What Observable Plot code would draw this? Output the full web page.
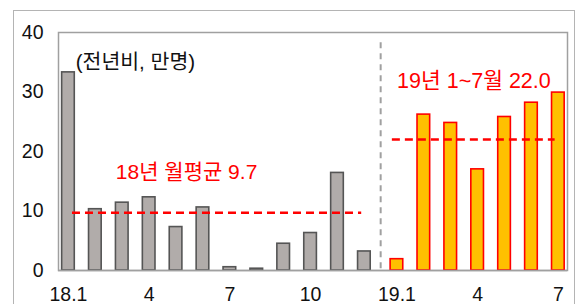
<!DOCTYPE html>
<html><head><meta charset="utf-8">
<script src="https://cdn.jsdelivr.net/npm/d3@7"></script>
<script src="https://cdn.jsdelivr.net/npm/@observablehq/plot@0.6"></script>
<style>
body{margin:0;background:#fff;}
#wrap{position:relative;width:578px;height:304px;overflow:hidden;}
#outer{position:absolute;left:13px;top:10px;width:560px;height:310px;border:1.5px solid #b4b4b4;}
#chart{position:absolute;left:0;top:0;}
</style></head><body>
<div id="wrap"><div id="outer"></div><div id="chart"></div></div>
<script>
const months2018 = ["18.1","18.2","18.3","18.4","18.5","18.6","18.7","18.8","18.9","18.10","18.11","18.12"];
const values2018 = [33.3,10.3,11.4,12.3,7.3,10.6,0.55,0.3,4.5,6.3,16.4,3.2];
const months2019 = ["19.1","19.2","19.3","19.4","19.5","19.6","19.7"];
const values2019 = [1.9,26.2,24.8,17.0,25.8,28.2,29.9];
const avg2018 = 9.7;
const avg2019 = 22.0;
const tickLabels = {"18.1":"18.1","18.4":"4","18.7":"7","18.10":"10","19.1":"19.1","19.4":"4","19.7":"7"};
const yTicks = [0,10,20,30,40];

const gap = 1.21; // spacing between last 2018 slot and first 2019 slot
const rows = [
  ...months2018.map((m,i)=>({m, v: values2018[i], pos: i, yr: 2018})),
  ...months2019.map((m,j)=>({m, v: values2019[j], pos: months2018.length - 1 + gap + j, yr: 2019}))
];
const posOf = m => rows.find(r=>r.m===m).pos;
const last18 = rows.filter(r=>r.yr===2018).at(-1).pos;
const first19 = rows.filter(r=>r.yr===2019)[0].pos;
const last19 = rows.at(-1).pos;
const hw = 0.235;
const font = "'Liberation Sans','Noto Sans CJK KR',sans-serif";

const chart = Plot.plot({
  width: 578, height: 304,
  marginTop: 32, marginBottom: 34, marginLeft: 58, marginRight: 11,
  style: {fontFamily: font, fontSize: "19px", color: "#111", background: "transparent"},
  x: {domain: [-0.37, last19 + 0.34], axis: null},
  y: {domain: [0, 40], axis: null},
  marks: [
    Plot.frame({stroke: "#a0a0a0", strokeWidth: 1.5}),
    Plot.rectY(rows.filter(r=>r.yr===2018), {x1: d=>d.pos-hw, x2: d=>d.pos+hw, y: "v", fill: "#b1acaa", stroke: "#555", strokeWidth: 1.6}),
    Plot.rectY(rows.filter(r=>r.yr===2019), {x1: d=>d.pos-hw, x2: d=>d.pos+hw, y: "v", fill: "#ffc000", stroke: "#ff0000", strokeWidth: 1.6}),
    Plot.ruleY([0], {stroke: "#a0a0a0", strokeWidth: 1.5}),
    Plot.ruleX([(last18 + first19)/2], {y1: 0.3, y2: 38.6, stroke: "#a0a0a0", strokeWidth: 2, strokeDasharray: "6,5"}),
    Plot.ruleY([avg2018], {x1: 0.15, x2: last18 - 0.1, stroke: "#ff0000", strokeWidth: 2.5, strokeDasharray: "8,5"}),
    Plot.ruleY([avg2019], {x1: first19 - 0.17, x2: last19 - 0.12, stroke: "#ff0000", strokeWidth: 2.5, strokeDasharray: "8,5"}),
    Plot.text(["(전년비, 만명)"], {x: 0.27, y: 35.0, text: d=>d, textAnchor: "start", fill: "#111", fontSize: 20.5}),
    Plot.text([`18년 월평균 ${avg2018.toFixed(1)}`], {x: 4.39, y: 16.5, text: d=>d, fill: "#ff0000", fontSize: 21}),
    Plot.text([`19년 1~7월 ${avg2019.toFixed(1)}`], {x: 15.07, y: 31.8, text: d=>d, fill: "#ff0000", fontSize: 21.5}),
    Plot.text(yTicks, {x: -0.37, y: d=>d, text: d=>String(d), textAnchor: "end", dx: -15, fill: "#111", fontSize: 19.5}),
    Plot.text(Object.keys(tickLabels), {x: d=>posOf(d), y: 0, text: d=>tickLabels[d], dy: 24, fill: "#111", fontSize: 19.5})
  ]
});
document.getElementById("chart").appendChild(chart);
</script></body></html>
